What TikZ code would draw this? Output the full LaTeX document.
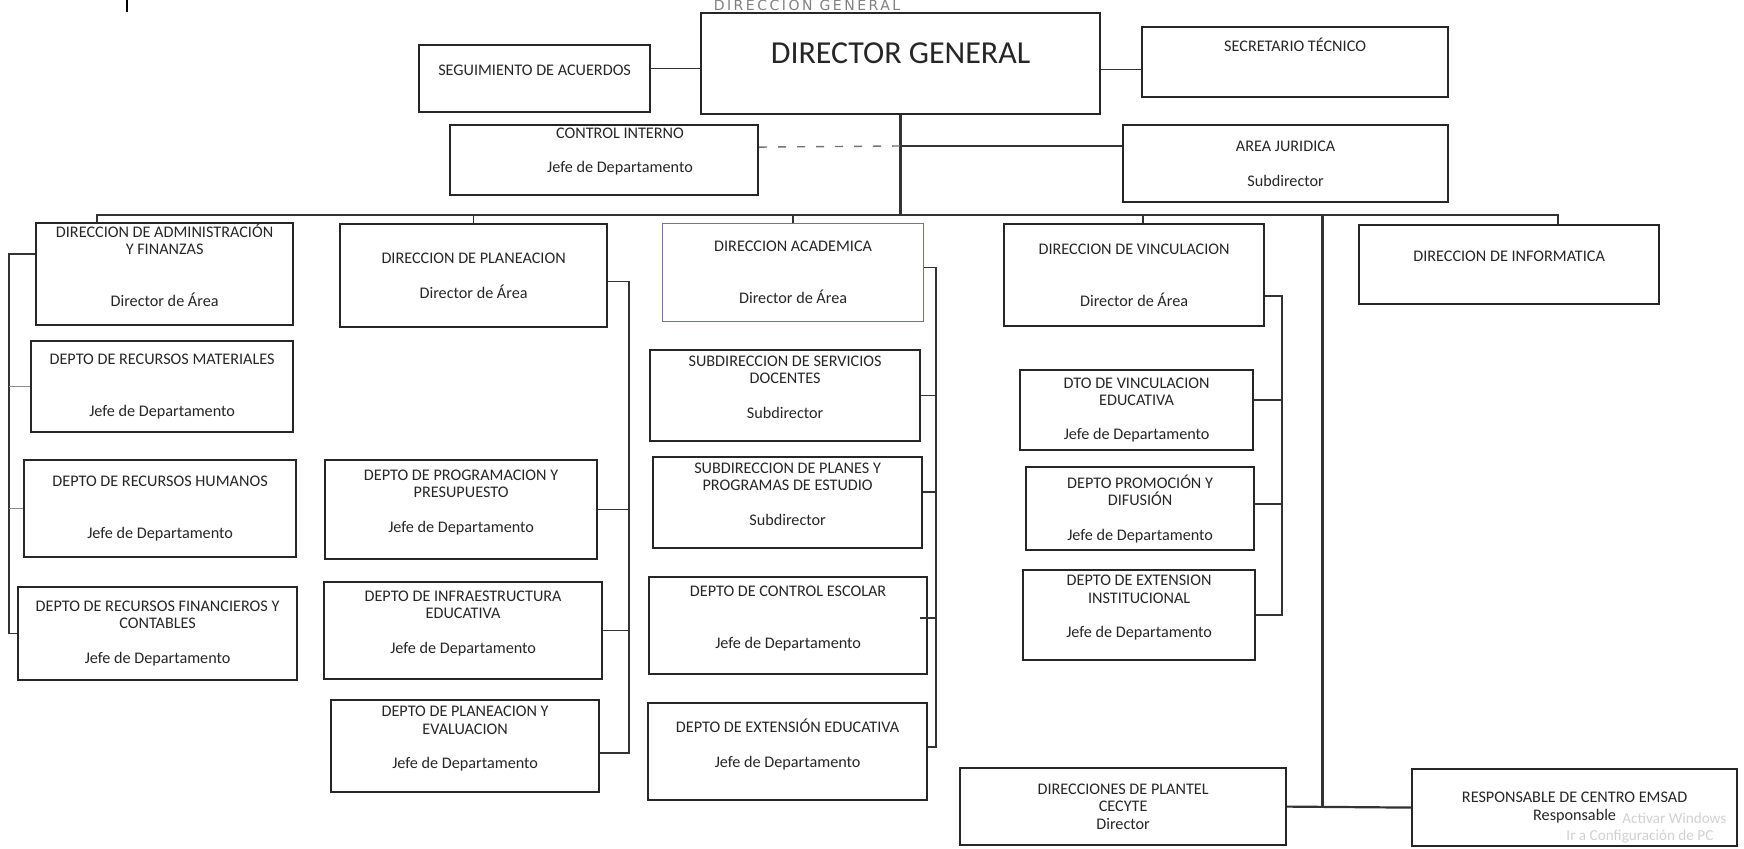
\documentclass[tikz,border=0pt]{standalone}
\usepackage{fontspec}
\setmainfont{Carlito}
\newfontfamily\hdfont[LetterSpace=18]{DejaVu Sans}
\definecolor{acaline}{RGB}{110,120,150}

\tikzset{
    txt/.style={align=center, inner sep=0pt, text=black!85, font=\fontsize{8.1}{8.65}\selectfont},
    box/.style={txt, draw=black!85, line width=1.1pt, anchor=north west},
    wh/.style 2 args={minimum width=#1*0.5pt, minimum height=#2*0.5pt},
    link/.style={draw=black!80, line width=0.7pt},
    wmark/.style={anchor=west, inner sep=0pt, text=black!18, font=\fontsize{7.6}{8}\selectfont},
}

\begin{document}
\begin{tikzpicture}[x=0.5pt,y=-0.5pt]
    \useasboundingbox (0,0) rectangle (1744,849);

    \node[inner sep=0pt, text=black!50, font=\hdfont\fontsize{7}{7}\selectfont] (hd) at (807,5) {DIRECCION GENERAL};

    \node[box,wh={231}{67}]  (seg)   at (418,44)   {SEGUIMIENTO DE ACUERDOS\\\mbox{}};
    \node[box,wh={399}{101},font=\fontsize{16}{18}\selectfont] (dg) at (700,12) {DIRECTOR GENERAL\\[-8pt]\mbox{}};
    \node[box,wh={306}{70}]  (sec)   at (1141,26)  {SECRETARIO TÉCNICO\\[8.65pt]\mbox{}};
    \node[box,wh={308}{70}]  (ci)    at (449,124)  {};
    \node[txt]               (cit)   at (620,159)  {CONTROL INTERNO\\[8.65pt]Jefe de Departamento\\\mbox{}};
    \node[box,wh={325}{77}]  (aj)    at (1122,124) {AREA JURIDICA\\[8.65pt]Subdirector};

    \node[box,wh={257}{102}] (adm)   at (35,222)   {DIRECCION DE ADMINISTRACIÓN\\Y FINANZAS\\[17.3pt]Director de Área\\\mbox{}};
    \node[box,wh={267}{103}] (pln)   at (339,223)  {DIRECCION DE PLANEACION\\[8.65pt]Director de Área};
    \node[box,wh={261}{98},draw=acaline,line width=0.6pt] (aca) at (662,223) {DIRECCION ACADEMICA\\[17.3pt]Director de Área};
    \node[box,wh={260}{102}] (vin)   at (1003,223) {DIRECCION DE VINCULACION\\[17.3pt]Director de Área};
    \node[box,wh={300}{79}]  (inf)   at (1358,224) {DIRECCION DE INFORMATICA\\\mbox{}};

    \node[box,wh={262}{91}]  (mat)   at (30,340)   {DEPTO DE RECURSOS MATERIALES\\[17.3pt]Jefe de Departamento};
    \node[box,wh={272}{97}]  (hum)   at (23,459)   {DEPTO DE RECURSOS HUMANOS\\[17.3pt]Jefe de Departamento};
    \node[box,wh={279}{93}]  (cnt)   at (17,586)   {DEPTO DE RECURSOS FINANCIEROS Y\\CONTABLES\\[8.65pt]Jefe de Departamento};

    \node[box,wh={272}{99}]  (pre)   at (324,459)  {DEPTO DE PROGRAMACION Y\\PRESUPUESTO\\[8.65pt]Jefe de Departamento\\\mbox{}};
    \node[box,wh={278}{97}]  (ifr)   at (323,581)  {DEPTO DE INFRAESTRUCTURA\\EDUCATIVA\\[8.65pt]Jefe de Departamento\\\mbox{}};
    \node[box,wh={268}{92}]  (pev)   at (330,699)  {DEPTO DE PLANEACION Y\\EVALUACION\\[8.65pt]Jefe de Departamento\\\mbox{}};

    \node[box,wh={270}{91}]  (sdo)   at (649,349)  {SUBDIRECCION DE SERVICIOS\\DOCENTES\\[8.65pt]Subdirector\\\mbox{}};
    \node[box,wh={269}{91}]  (spp)   at (652,456)  {SUBDIRECCION DE PLANES Y\\PROGRAMAS DE ESTUDIO\\[8.65pt]Subdirector\\\mbox{}};
    \node[box,wh={278}{97}]  (ces)   at (648,576)  {DEPTO DE CONTROL ESCOLAR\\[17.3pt]Jefe de Departamento\\\mbox{}};
    \node[box,wh={279}{97}]  (eed)   at (647,702)  {DEPTO DE EXTENSIÓN EDUCATIVA\\[8.65pt]Jefe de Departamento\\\mbox{}};

    \node[box,wh={233}{80}]  (ved)   at (1019,369) {DTO DE VINCULACION\\EDUCATIVA\\[8.65pt]Jefe de Departamento};
    \node[box,wh={228}{83}]  (pro)   at (1025,466) {DEPTO PROMOCIÓN Y\\DIFUSIÓN\\[8.65pt]Jefe de Departamento};
    \node[box,wh={232}{90}]  (ein)   at (1022,569) {DEPTO DE EXTENSION\\INSTITUCIONAL\\[8.65pt]Jefe de Departamento\\\mbox{}};

    \node[box,wh={326}{77}]  (pla)   at (959,767)  {DIRECCIONES DE PLANTEL\\CECYTE\\Director};
    \node[box,wh={325}{77}]  (emsad) at (1411,768) {RESPONSABLE DE CENTRO EMSAD\\Responsable};

    \node[wmark] (wm1) at (1622,818) {Activar Windows};
    \node[wmark] (wm2) at (1566,837) {Ir a Configuración de PC};

    \coordinate (j)  at (900,146);
    \coordinate (b0) at (97,215);
    \coordinate (b4) at (1322,215);
    \coordinate (b5) at (1558,215);
    \coordinate (la) at (9,0);
    \coordinate (lp) at (629,0);
    \coordinate (lc) at (936,0);
    \coordinate (lv) at (1282,0);

    \draw[line width=0.8pt] (127,0) -- (127,12);

    \path[link] ([yshift=5pt]seg.east) edge ([yshift=5pt]seg.east -| dg.west)
                ([yshift=-3pt]dg.east) edge ([yshift=-3pt]dg.east -| sec.west);
    \draw[link,line width=1.5pt] (dg.south) -- (dg.south |- b0);
    \draw[link,draw=black!55,dash pattern=on 4pt off 5.5pt] ([yshift=6.5pt]ci.east) -- (j);
    \draw[link] (j) -- (j -| aj.west);

    \draw[link,line width=0.9pt] (b0 |- adm.north) -- (b0) -- (b5) -- (b5 |- inf.north);
    \path[link] (pln.north) edge (pln.north |- b0)
                (aca.north) edge (aca.north |- b0)
                ([xshift=4.5pt]vin.north) edge ([xshift=4.5pt]vin.north |- b0);
    \draw[link,line width=1.5pt] (b4) -- (b4 |- pla.east);
    \draw[link,line width=1.1pt] (pla.east) -- (emsad.west);

    \draw[link] ([yshift=10pt]adm.west) -- ([yshift=10pt]adm.west -| la) |- (cnt.west);
    \path[link,draw=black!45,line width=0.5pt] (mat.west) edge (mat.west -| la)
                (hum.west) edge (hum.west -| la);

    \draw[link] ([yshift=-3pt]pln.east) -- ([yshift=-3pt]pln.east -| lp) |- ([yshift=-3.5pt]pev.east);
    \path[link] (pre.east) edge (pre.east -| lp)
                (ifr.east) edge (ifr.east -| lp);

    \draw[link] ([yshift=2.5pt]aca.east) -- ([yshift=2.5pt]aca.east -| lc) |- ([yshift=2.25pt]eed.east);
    \path[link] (sdo.east) edge (sdo.east -| lc)
                ([yshift=5.25pt]spp.east) edge ([yshift=5.25pt]spp.east -| lc)
                ([xshift=-4pt,yshift=3.75pt]ces.east) edge ([yshift=3.75pt]ces.east -| lc);

    \draw[link] ([yshift=-10.5pt]vin.east) -- ([yshift=-10.5pt]vin.east -| lv) |- (ein.east);
    \path[link] ([yshift=5pt]ved.east) edge ([yshift=5pt]ved.east -| lv)
                ([yshift=2.25pt]pro.east) edge ([yshift=2.25pt]pro.east -| lv);
\end{tikzpicture}
\end{document}
